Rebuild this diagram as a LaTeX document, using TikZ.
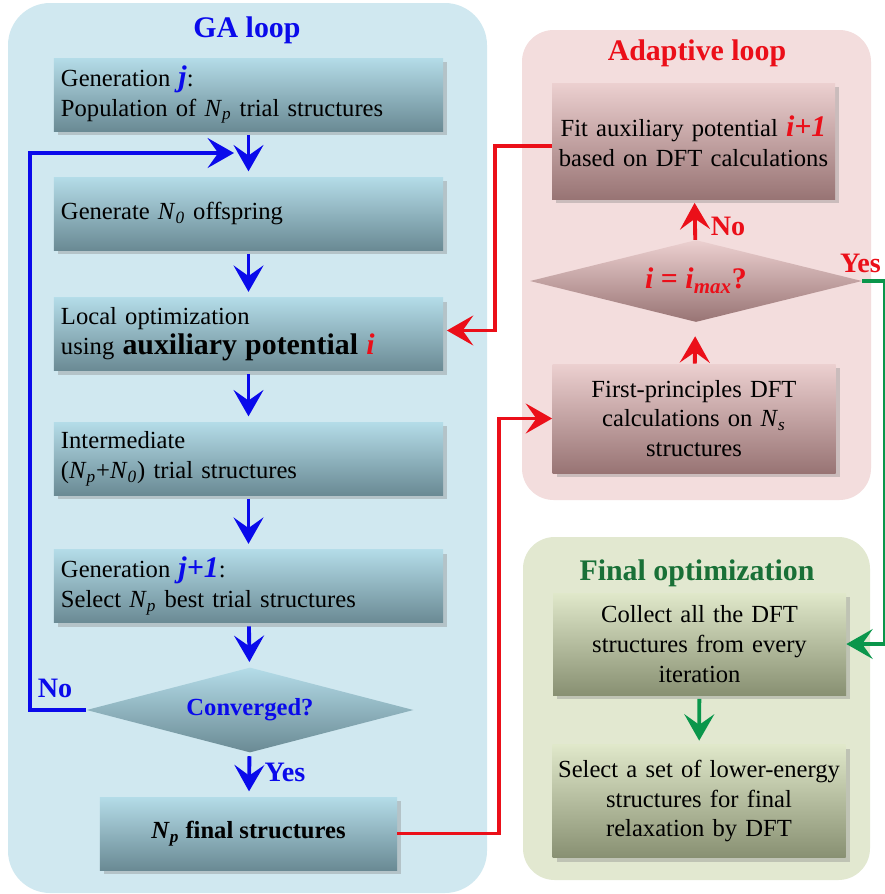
\documentclass[tikz,border=0pt]{standalone}
\usepackage{fontspec}
\setmainfont{Liberation Serif}
\usetikzlibrary{shapes.geometric,arrows.meta,shadows,positioning}

\definecolor{gaBg}{RGB}{208,232,240}
\definecolor{gaTop}{RGB}{180,220,232}
\definecolor{gaBot}{RGB}{106,138,148}
\definecolor{adBg}{RGB}{243,221,221}
\definecolor{adTop}{RGB}{236,208,208}
\definecolor{adBot}{RGB}{152,116,116}
\definecolor{fiBg}{RGB}{226,232,208}
\definecolor{fiTop}{RGB}{224,232,202}
\definecolor{fiBot}{RGB}{136,144,114}
\definecolor{gaBlue}{RGB}{10,10,235}
\definecolor{adRed}{RGB}{235,15,25}
\definecolor{fiGreen}{RGB}{10,150,75}
\definecolor{fiDark}{RGB}{25,112,55}

\newcommand\Np{\textit{N}\textsubscript{\textit{p}}}
\newcommand\Nz{\textit{N}\textsubscript{\textit{0}}}
\newcommand\bigbf{\fontsize{17}{17}\selectfont\bfseries}

\begin{document}
\begin{tikzpicture}[x=0.2mm,y=-0.2mm,
   box/.style={rectangle,inner sep=0pt,font=\fontsize{14}{17}\selectfont,
     drop shadow={shadow xshift=2.5pt,shadow yshift=-2.5pt,opacity=0.35}},
   gabox/.style={box,top color=gaTop,bottom color=gaBot,minimum width=7.78cm,
     minimum height=1.46cm,text width=7.5cm,align=left},
   adbox/.style={box,top color=adTop,bottom color=adBot,minimum width=5.66cm,
     text width=5.4cm,align=center},
   fibox/.style={box,top color=fiTop,bottom color=fiBot,minimum width=5.86cm,
     text width=5.86cm,align=center},
   dec/.style={diamond,inner sep=0pt,font=\fontsize{14}{17}\selectfont\bfseries},
   flow/.style={line width=2.2pt,-{Stealth[length=15pt,width=17pt,inset=6pt]}},
   title/.style={font=\fontsize{17}{20}\selectfont\bfseries},
   lbl/.style={font=\fontsize{16}{19}\selectfont\bfseries,inner sep=1pt}]
 \useasboundingbox[fill=white] (0,0) rectangle (885,894);

 % panels
 \fill[gaBg,rounded corners=24pt] (8,3) rectangle (487,893);
 \fill[adBg,rounded corners=18pt] (522,30) rectangle (871,500);
 \fill[fiBg,rounded corners=18pt] (523,537) rectangle (870,880);
 \node[title,gaBlue] (tga) at (247,30) {GA loop};
 \node[title,adRed] (tad) at (697,53) {Adaptive loop};
 \node[title,fiDark] (tfin) at (697,573) {Final optimization};

 % GA loop
 \node[gabox] (b1) at (248.5,94.5) {Generation \textcolor{gaBlue}{\bigbf\itshape j}:\\
   Population of \Np{} trial structures};
 \node[gabox] (b2) at (248.5,213.5) {Generate \Nz{} offspring};
 \node[gabox] (b3) at (248.5,334) {Local optimization\\
   using {\bigbf auxiliary potential \textcolor{adRed}{\itshape i}}};
 \node[gabox] (b4) at (248.5,458.5) {Intermediate\\
   (\Np+\Nz) trial structures};
 \node[gabox] (b5) at (248.5,586) {Generation \textcolor{gaBlue}{\bigbf\itshape j+1}:\\
   Select \Np{} best trial structures};
 \node[dec,top color=gaTop,bottom color=gaBot,aspect=3.85,minimum width=6.54cm,
   minimum height=1.7cm,text=gaBlue] (conv) at (250,710) {Converged?};
 \node[box,top color=gaTop,bottom color=gaBot,minimum width=5.94cm,minimum height=1.46cm,
   font=\fontsize{14}{17}\selectfont\bfseries] (b6) at (248.5,833.5) {\Np{} final structures};
 \node[lbl,gaBlue] (no1) at (55,688) {No};
 \node[lbl,gaBlue] (yes1) at (285,772) {Yes};

 \foreach \a/\b in {b1/b2,b2/b3,b3/b4,b4/b5,b5/conv,conv/b6}
   \draw[flow,gaBlue,shorten <=2pt,shorten >=3pt] (\a) -- (\b);
 \coordinate (loopin) at (234,153);
 \draw[flow,gaBlue] (conv.west) -- ++(-56,0) |- (loopin);

 % adaptive loop
 \node[adbox,minimum height=2.32cm] (A1) at (693.5,141) {Fit auxiliary potential
   \textcolor{adRed}{\bigbf\itshape i+1}\\ based on DFT calculations};
 \node[dec,top color=adTop,bottom color=adBot,aspect=4.05,minimum width=6.64cm,
   minimum height=1.64cm,text=adRed,font=\bigbf] (ad) at (696,281)
   {\itshape i \upshape= \itshape i\textsubscript{max}\upshape?};
 \node[adbox,minimum height=2.18cm] (A2) at (694,418.5) {First-principles DFT\\
   calculations on \textit{N}\textsubscript{\textit{s}}\\ structures};
 \node[lbl,adRed] (no2) at (728,226) {No};
 \node[lbl,adRed,anchor=west] (yes2) at (838,263) {Yes};
 \draw[flow,adRed,shorten >=8pt] (A2) -- (ad);
 \draw[flow,adRed,shorten >=2pt] (ad) -- (A1);
 \draw[flow,adRed,shorten >=2pt] ([yshift=-3pt]A1.west) -- ++(-57,0) |- ([yshift=2pt]b3.east);
 \draw[flow,adRed] (b6.east) -- ++(102,0) |- (A2.west);

 % final optimization
 \node[fibox,minimum height=2.04cm] (F1) at (699.5,644) {Collect all the DFT\\
   structures from every\\ iteration};
 \node[fibox,minimum height=2.26cm] (F2) at (699,801) {Select a set of lower-energy\\
   structures for final\\ relaxation by DFT};
 \draw[flow,fiGreen,line width=1.8pt] (ad.east) -- ++(22,0) |- (F1.east);
 \draw[flow,fiGreen,shorten <=2pt,shorten >=2pt] (F1) -- (F2);
\end{tikzpicture}
\end{document}
